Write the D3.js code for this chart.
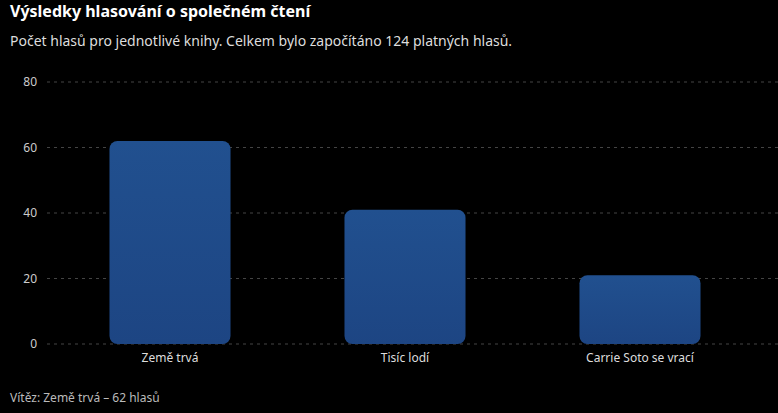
<!DOCTYPE html>
<html><head><meta charset="utf-8">
<script src="https://cdn.jsdelivr.net/npm/d3@7"></script>
<style>
body{margin:0;background:#000;font-family:"Segoe UI","Noto Sans",sans-serif;}
</style></head>
<body><svg id="chart" width="778" height="413"></svg>
<script>
var books = ['Země trvá', 'Tisíc lodí', 'Carrie Soto se vrací'];
var votes = [62, 41, 21];
var yTicks = [0, 20, 40, 60, 80];

var svg = d3.select('#chart');
svg.append('rect').attr('width', 778).attr('height', 413).attr('fill', '#000');

var grad = svg.append('defs').append('linearGradient')
  .attr('id', 'bar').attr('x1', 0).attr('y1', 0).attr('x2', 0).attr('y2', 1);
grad.append('stop').attr('offset', '0%').attr('stop-color', '#21508f');
grad.append('stop').attr('offset', '100%').attr('stop-color', '#1d4583');

svg.append('text').attr('x', 10).attr('y', 17).attr('fill', '#fff')
  .attr('font-size', 16).attr('font-weight', 'bold').text('Výsledky hlasování o společném čtení');
svg.append('text').attr('x', 10).attr('y', 46).attr('fill', '#ddd')
  .attr('font-size', 14).text('Počet hlasů pro jednotlivé knihy. Celkem bylo započítáno 124 platných hlasů.');

var x = d3.scaleBand().domain(books).range([52.5, 757.5]).paddingInner(0.485).paddingOuter(0.2425);
var y = d3.scaleLinear().domain([0, 80]).range([344, 82]);

svg.append('g').selectAll('line').data(yTicks).join('line')
  .attr('x1', 47).attr('x2', 778).attr('y1', y).attr('y2', y)
  .attr('stroke', '#444').attr('stroke-dasharray', '3,4');

svg.append('g').selectAll('text').data(yTicks).join('text')
  .attr('x', 37).attr('y', function(d) { return y(d) + 4; })
  .attr('text-anchor', 'end').attr('fill', '#ccc').attr('font-size', 12).text(String);

svg.append('g').selectAll('rect').data(votes).join('rect')
  .attr('x', function(d, i) { return x(books[i]); })
  .attr('width', x.bandwidth())
  .attr('y', function(d) { return y(d); })
  .attr('height', function(d) { return y(0) - y(d); })
  .attr('rx', 8).attr('fill', 'url(#bar)');

svg.append('g').selectAll('text').data(books).join('text')
  .attr('x', function(d) { return x(d) + x.bandwidth() / 2; })
  .attr('y', 362).attr('text-anchor', 'middle').attr('fill', '#ddd')
  .attr('font-size', 12).text(String);

svg.append('text').attr('x', 10).attr('y', 402).attr('fill', '#bbb')
  .attr('font-size', 12).text('Vítěz: Země trvá – 62 hlasů');
</script></body></html>
